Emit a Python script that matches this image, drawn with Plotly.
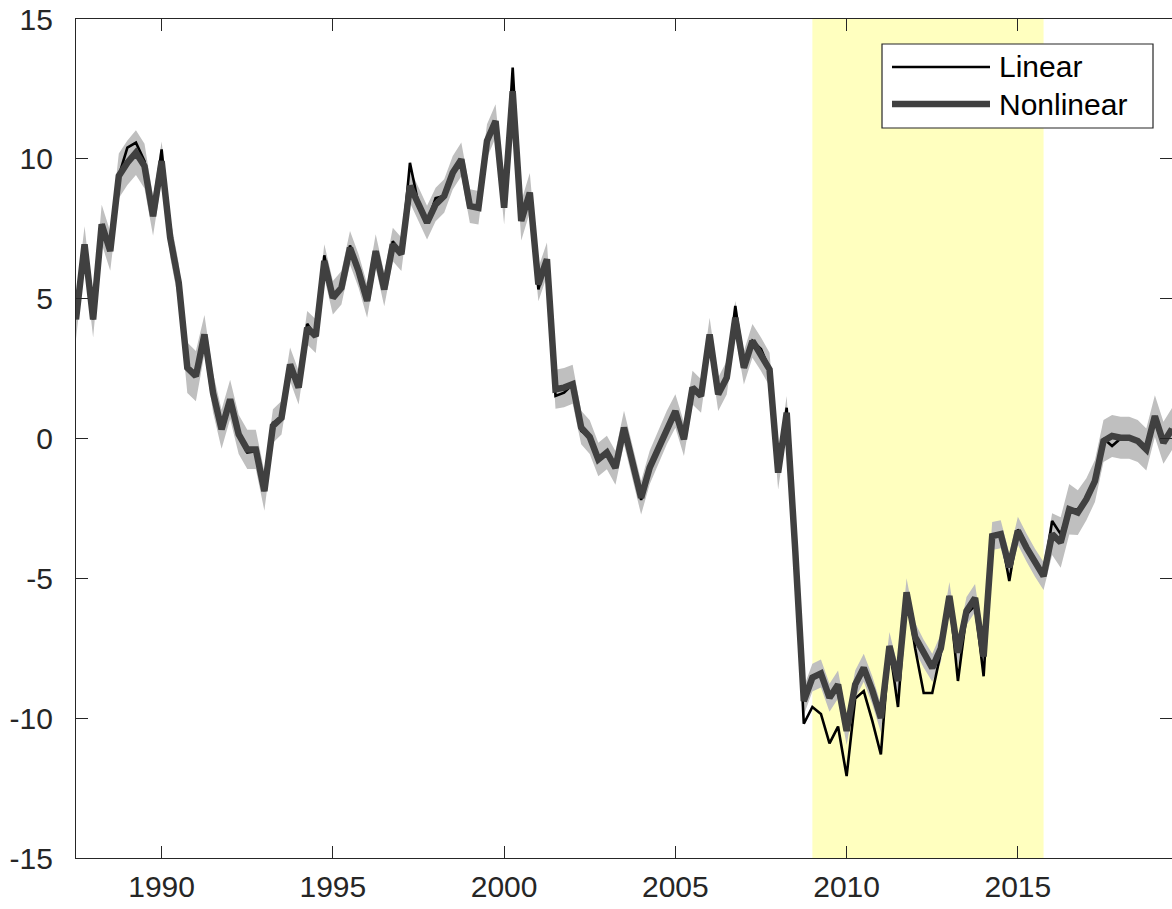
import plotly.graph_objects as go

# ---------------- data ----------------
start_year = 1987.5
n_quarters = 129
quarters = [start_year + 0.25 * i for i in range(n_quarters)]

nonlinear = [
    4.26, 6.94, 4.26, 7.66, 6.70, 9.39, 9.86, 10.22,
    9.74, 7.95, 9.92, 7.18, 5.57, 2.53, 2.23, 3.72,
    1.64, 0.33, 1.40, 0.15, -0.39, -0.39, -1.88, 0.45,
    0.74, 2.65, 1.82, 3.96, 3.66, 6.35, 5.03, 5.39,
    6.82, 5.99, 4.92, 6.70, 5.33, 6.94, 6.59, 9.03,
    8.38, 7.72, 8.37, 8.67, 9.50, 9.98, 8.31, 8.25,
    10.64, 11.35, 8.25, 12.42, 7.78, 8.79, 5.51, 6.41,
    1.76, 1.82, 1.94, 0.39, 0.05, -0.75, -0.50, -1.05,
    0.39, -0.86, -2.12, -1.04, -0.33, 0.39, 0.98, -0.03,
    1.82, 1.52, 3.72, 1.58, 2.17, 4.32, 2.53, 3.49,
    3.01, 2.47, -1.22, 0.92, -4.00, -9.39, -8.55, -8.40,
    -9.27, -8.80, -10.46, -8.80, -8.20, -9.00, -10.00, -7.42,
    -8.67, -5.50, -7.10, -7.70, -8.20, -7.50, -5.63, -7.66,
    -6.17, -5.70, -7.80, -3.49, -3.42, -4.60, -3.30, -3.90,
    -4.44, -4.92, -3.42, -3.72, -2.53, -2.65, -2.17, -1.52,
    -0.09, 0.09, 0.03, 0.03, -0.09, -0.39, 0.80, -0.15,
    0.34,
]

linear = [
    4.26, 6.94, 4.26, 7.66, 6.80, 9.39, 10.40, 10.58,
    9.92, 7.95, 10.34, 7.18, 5.57, 2.60, 2.30, 3.72,
    1.64, 0.33, 1.40, 0.10, -0.50, -0.45, -1.88, 0.56,
    0.74, 2.65, 1.82, 4.10, 3.66, 6.55, 5.03, 5.39,
    6.90, 5.99, 4.92, 6.70, 5.33, 7.05, 6.59, 9.86,
    8.38, 7.72, 8.60, 8.67, 9.50, 9.98, 8.31, 8.25,
    10.64, 11.35, 8.25, 13.26, 7.78, 8.79, 5.33, 6.41,
    1.52, 1.64, 1.94, 0.27, 0.05, -0.75, -0.50, -1.05,
    0.39, -0.86, -2.20, -1.04, -0.33, 0.39, 0.98, -0.03,
    1.82, 1.52, 3.72, 1.58, 2.17, 4.74, 2.53, 3.49,
    3.20, 2.47, -1.22, 1.10, -4.00, -10.20, -9.60, -9.85,
    -10.90, -10.30, -12.07, -9.30, -9.03, -10.10, -11.30, -7.42,
    -9.60, -5.50, -7.50, -9.10, -9.10, -7.65, -5.63, -8.67,
    -6.30, -5.96, -8.50, -3.49, -3.42, -5.10, -3.25, -3.90,
    -4.44, -4.92, -2.95, -3.42, -2.53, -2.53, -2.17, -1.52,
    0.00, -0.27, 0.00, 0.03, -0.09, -0.39, 0.80, -0.15,
    0.34,
]

band_half = [
    0.70, 0.65, 0.65, 0.70, 0.70, 0.80, 0.80, 0.80,
    0.80, 0.70, 0.70, 0.70, 0.70, 0.90, 0.90, 0.70,
    0.70, 0.70, 0.70, 0.70, 0.70, 0.70, 0.70, 0.60,
    0.60, 0.60, 0.60, 0.60, 0.60, 0.60, 0.60, 0.60,
    0.60, 0.60, 0.60, 0.60, 0.60, 0.60, 0.60, 0.60,
    0.60, 0.60, 0.60, 0.60, 0.60, 0.60, 0.60, 0.60,
    0.60, 0.60, 0.60, 0.70, 0.70, 0.70, 0.60, 0.60,
    0.70, 0.70, 0.70, 0.60, 0.60, 0.60, 0.60, 0.60,
    0.60, 0.60, 0.60, 0.60, 0.60, 0.60, 0.60, 0.60,
    0.60, 0.60, 0.60, 0.60, 0.60, 0.60, 0.60, 0.60,
    0.60, 0.60, 0.60, 0.60, 0.50, 0.50, 0.50, 0.50,
    0.50, 0.50, 0.50, 0.50, 0.50, 0.50, 0.50, 0.50,
    0.50, 0.50, 0.50, 0.50, 0.50, 0.50, 0.50, 0.50,
    0.50, 0.50, 0.50, 0.50, 0.50, 0.50, 0.50, 0.50,
    0.50, 0.50, 0.75, 0.90, 0.90, 0.80, 0.75, 0.75,
    0.75, 0.75, 0.75, 0.75, 0.75, 0.75, 0.75, 0.75,
    0.75,
]

band_lo = [v - h for v, h in zip(nonlinear, band_half)]
band_hi = [v + h for v, h in zip(nonlinear, band_half)]

shade_period = [2009.0, 2015.75]
x_ticks = [1990, 1995, 2000, 2005, 2010, 2015]
y_ticks = [-15, -10, -5, 0, 5, 10, 15]
y_tick_text = ["-15", "-10", "-5", "0", "5", "10", "15"]
series_names = ["Linear", "Nonlinear"]

# ---------------- figure ----------------
W, H = 1172, 909
ML, MR, MT, MB = 76, 0, 19, 51
FONT = "Liberation Sans, Arial, Helvetica, sans-serif"
AX = "#262626"
FS = 30

fig = go.Figure()

fig.add_trace(go.Scatter(
    x=quarters + quarters[::-1],
    y=band_hi + band_lo[::-1],
    fill="toself", fillcolor="#BFBFBF",
    line=dict(width=0), mode="lines",
    hoverinfo="skip", showlegend=False,
))
fig.add_trace(go.Scatter(
    x=quarters, y=linear, mode="lines", name=series_names[0],
    line=dict(color="#000000", width=2.6), showlegend=False,
))
fig.add_trace(go.Scatter(
    x=quarters, y=nonlinear, mode="lines", name=series_names[1],
    line=dict(color="#404040", width=6.5), showlegend=False,
))

fig.add_shape(type="rect", xref="x", yref="y",
              x0=shade_period[0], x1=shade_period[1],
              y0=y_ticks[0], y1=y_ticks[-1],
              fillcolor="#FFFFBF", line=dict(width=0), layer="below")

# manual legend box (pixel -> paper conversion)
pw, ph = W - ML - MR, H - MT - MB
def px(x):
    return (x - ML) / pw
def py(y):
    return (H - MB - y) / ph

fig.add_shape(type="rect", xref="paper", yref="paper",
              x0=px(882), x1=px(1153), y0=py(128), y1=py(44),
              fillcolor="white", line=dict(color="#262626", width=1.2))
fig.add_shape(type="line", xref="paper", yref="paper",
              x0=px(892), x1=px(990), y0=py(67), y1=py(67),
              line=dict(color="#000000", width=2.6))
fig.add_shape(type="line", xref="paper", yref="paper",
              x0=px(892), x1=px(990), y0=py(104), y1=py(104),
              line=dict(color="#404040", width=6.5))
for name, yy in zip(series_names, [67, 104]):
    fig.add_annotation(xref="paper", yref="paper", x=px(997), y=py(yy),
                       text=name, showarrow=False, xanchor="left",
                       yanchor="middle",
                       font=dict(family=FONT, size=FS, color="#000000"))

axis_common = dict(
    showgrid=False, zeroline=False, showline=True, linecolor=AX,
    linewidth=1.2, mirror="ticks", ticks="inside", ticklen=12,
    tickcolor=AX, tickwidth=1.2, automargin=False,
    tickfont=dict(family=FONT, size=FS, color=AX),
)
fig.update_xaxes(range=[quarters[0], quarters[-1]], tickvals=x_ticks,
                 ticktext=[str(t) for t in x_ticks],
                 ticklabelstandoff=2, **axis_common)
fig.update_yaxes(range=[y_ticks[0], y_ticks[-1]], tickvals=y_ticks,
                 ticktext=y_tick_text,
                 ticklabelstandoff=16, **axis_common)

fig.update_layout(
    width=W, height=H,
    margin=dict(l=ML, r=MR, t=MT, b=MB, pad=0, autoexpand=False),
    plot_bgcolor="white", paper_bgcolor="white",
    showlegend=False,
)

fig.write_html(
    "out.html",
    config={"displayModeBar": False},
    post_script="document.body.style.margin='0';document.body.style.padding='0';",
)
